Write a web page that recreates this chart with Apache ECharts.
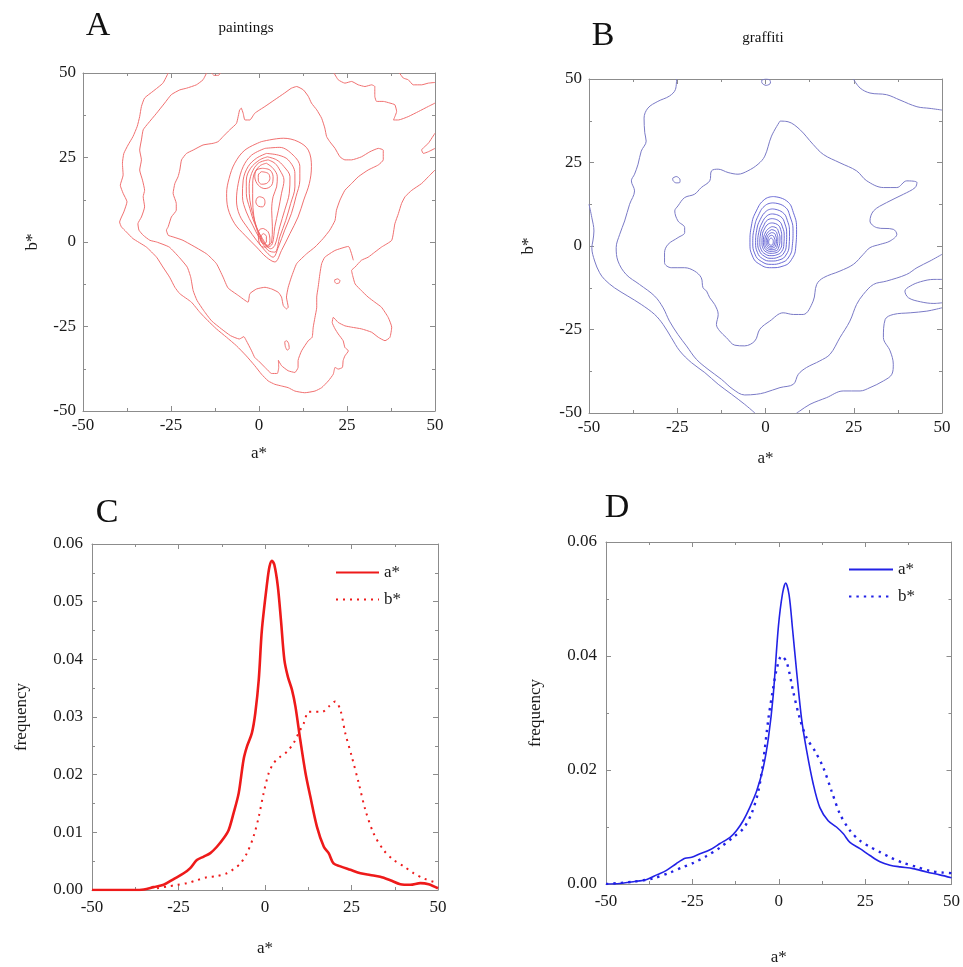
<!DOCTYPE html>
<html><head><meta charset="utf-8">
<script src="https://cdn.jsdelivr.net/npm/echarts@6/dist/echarts.min.js"></script>
<style>html,body{margin:0;padding:0;background:#fff}#c{width:963px;height:967px}</style>
</head><body><div id="c"></div>
<script>
// ---------- tick values ----------
const labTicks = [-50, -25, 0, 25, 50];
const freqTicksC = [0, 0.01, 0.02, 0.03, 0.04, 0.05, 0.06];
const freqTicksD = [0, 0.02, 0.04, 0.06];

// ---------- Panel A (paintings) contour lines, [a*, b*] ----------
const A_level1 = [[-25.8,50],[-27.3,47.0],[-30.1,44.6],[-32.5,42.6],[-33.4,40.1],[-33.9,37.1],[-34.6,34.2],[-35.8,31.2],[-37.2,28.7],[-38.4,26.2],[-38.8,23.3],[-38.6,19.8],[-39.4,16.8],[-38.6,14.4],[-37.5,11.9],[-38.4,8.9],[-39.6,5.9],[-39.1,4.5],[-37.7,3.0],[-35.8,1.0],[-32.0,-1.5],[-29.1,-4.5],[-27.3,-7.4],[-25.4,-10.4],[-23.9,-13.4],[-22.5,-15.3],[-19.2,-17.8],[-16.8,-20.8],[-14.5,-23.3],[-12.1,-25.7],[-9.2,-28.2],[-6.4,-30.7],[-3.6,-33.7],[-1.2,-36.6],[0.7,-39.1],[2.6,-41.1],[4.5,-42.1],[6.4,-42.6],[8.3,-43.1],[10.2,-44.1],[13.0,-44.6],[15.9,-44.1],[17.8,-43.1],[19.7,-41.1],[21.1,-39.1],[21.6,-37.1],[22.5,-37.6],[23.7,-37.1],[23.9,-35.1],[24.4,-33.7],[25.4,-32.2],[24.4,-31.2],[23.9,-29.2],[22.5,-27.2],[21.6,-25.7],[20.8,-23.8],[21.1,-22.3],[22.5,-23.8],[24.4,-24.8],[26.3,-25.2],[29.1,-25.7],[32.0,-26.7],[33.9,-28.2],[35.8,-29.2],[37.2,-28.2],[37.7,-25.2],[36.7,-22.3],[34.8,-19.3],[32.9,-17.8],[31.0,-16.3],[29.1,-14.4],[27.3,-12.4],[26.6,-9.9],[26.3,-8.4],[27.3,-7.4],[29.1,-5.4],[31.0,-4.5],[32.9,-3.0],[34.8,-1.5],[37.7,0.5],[38.6,5.4],[39.6,8.4],[40.5,11.4],[41.5,13.4],[43.4,15.3],[46.2,17.3],[48.1,19.3],[50,21.3]];
const A_level2 = [[-14.9,50],[-15.9,48.0],[-17.8,46.5],[-20.6,45.5],[-22.5,45.0],[-24.9,43.6],[-26.8,41.1],[-29.1,38.1],[-31.5,35.1],[-32.9,33.2],[-33.4,30.2],[-33.9,27.2],[-33.4,24.3],[-33.9,21.3],[-33.1,18.3],[-32.5,15.3],[-32.9,13.4],[-32.5,10.4],[-33.4,7.4],[-34.4,5.4],[-34.1,3.5],[-32.9,2.0],[-31.0,0.5],[-29.1,0],[-25.5,-1.5],[-22.7,-4.5],[-20.4,-7.4],[-19.4,-10.4],[-18.7,-14.4],[-17.6,-17.3],[-15.7,-20.3],[-13.5,-23.3],[-10.7,-25.7],[-8.1,-27.7],[-5.6,-28.7],[-4.3,-28.0],[-3.6,-29.2],[-2.1,-32.2],[-1.2,-34.2],[-0.2,-35.1],[1.7,-37.1],[3.6,-38.9],[5.2,-38.9],[5.6,-37.1],[5.5,-35.0],[6.4,-36.6],[8.3,-38.1],[10.2,-38.6],[11.1,-37.1],[11.1,-35.1],[12.1,-32.2],[14.0,-29.2],[15.1,-28.2],[15.4,-25.2],[15.9,-22.3],[16.4,-19.3],[16.4,-16.3],[16.8,-13.4],[17.3,-9.4],[17.8,-6.4],[18.7,-4.5],[21.6,-2.5],[25.4,-1.3],[26.8,-5.4]];
const A_level3 = [[-5.0,39.6],[-5.5,39.1],[-6.4,35.1],[-8.3,33.2],[-10.2,31.2],[-11.6,29.7],[-13.0,29.2],[-15.9,28.7],[-18.7,27.2],[-20.6,26.2],[-22.0,24.3],[-22.5,21.3],[-23.0,19.3],[-23.9,17.3],[-24.4,14.4],[-23.5,11.4],[-23.5,9.4],[-24.9,7.4],[-25.8,4.5],[-26.3,3.5],[-25.8,2.0],[-24.4,1.5],[-21.6,0.5],[-14.9,-3.5],[-12.1,-6.4],[-10.2,-10.4],[-8.8,-13.6],[-5.9,-15.8],[-3.1,-17.8],[-2.6,-15.3],[-0.7,-13.9],[1.7,-13.4],[3.6,-13.9],[5.5,-14.9],[6.4,-16.3],[6.9,-18.8],[7.8,-19.8],[8.3,-19.3],[7.8,-16.3],[8.3,-13.4],[9.2,-10.4],[10.7,-6.4],[13.5,-3.5],[15.9,-1.5],[18.2,1.0],[20.1,3.5],[21.6,6.4],[22.0,9.4],[23.0,12.4],[24.4,15.3],[26.3,17.3],[28.2,19.3],[31.0,21.3],[33.9,22.8],[35.3,24.3],[35.3,27.2],[33.9,27.7],[31.5,26.7],[29.1,25.2],[26.3,24.3],[24.4,24.3],[23.0,25.2],[21.6,27.7],[20.1,29.7],[19.2,31.2],[18.7,33.7],[17.8,36.6],[16.4,39.1],[14.9,41.1],[14.0,43.1],[12.6,45.0],[10.7,46.0],[9.2,45.5],[7.3,44.1],[4.5,42.1],[1.7,40.1],[-1.2,38.1],[-2.6,36.1],[-4.0,36.1],[-4.5,38.1],[-5.0,39.6]];
const A_topRight1 = [[21.3,50],[22.5,48.0],[24.4,47.0],[26.3,47.5],[28.2,46.5],[30.1,46.0],[32.0,46.5],[32.9,46.0],[32.9,43.1],[33.4,41.6],[35.3,41.6],[37.2,41.1],[38.6,40.6],[39.1,38.6],[38.6,37.1],[38.2,36.1],[39.6,36.1],[42.4,37.1],[45.3,38.6],[48.1,40.1],[50,41.1]];
const A_topRight2 = [[39.9,50],[41.0,48.5],[42.4,48.0],[43.8,46.5],[46.2,46.5],[48.1,47.0],[50,47.2]];
const A_notch = [[50,32.2],[48.1,29.2],[46.2,27.2],[46.7,26.2],[48.1,26.7],[50,27.7]];
const A_topTiny = [[-13.5,50],[-12.8,49.3],[-11.5,49.3],[-11,50]];
const A_spot1 = [[21.5,-11.2],[22.3,-10.9],[23.0,-11.4],[22.8,-12.1],[22.0,-12.3],[21.5,-11.8],[21.5,-11.2]];
const A_spot2 = [[7.3,-29.5],[7.9,-29.2],[8.4,-30.0],[8.6,-31.5],[8.0,-32.0],[7.5,-31.0],[7.3,-29.5]];
const A_ring1 = [[0.7,29.7],[6.9,30.7],[11.1,29.7],[14.0,27.2],[14.9,22.3],[14.3,17.3],[12.7,12.4],[11.1,7.4],[8.8,2.5],[6.4,-2.5],[4.5,-5.9],[2.1,-4.5],[-0.7,-1.5],[-4.0,2.0],[-6.9,5.4],[-8.8,9.9],[-9.2,14.4],[-8.5,18.8],[-6.9,23.3],[-4.0,27.2],[0.7,29.7]];
const A_ring2 = [[1.7,27.7],[5.9,28.0],[9.7,25.7],[11.6,22.3],[11.6,18.3],[10.5,13.4],[9.2,8.4],[7.3,3.5],[5.5,-1.5],[4.0,-4.5],[2.1,-3.0],[-0.7,0.5],[-3.1,4.0],[-5.5,7.9],[-6.4,12.4],[-5.9,17.3],[-4.5,22.3],[-2.1,25.7],[1.7,27.7]];
const A_ring3 = [[2.1,26.2],[5.5,25.7],[8.3,24.3],[10.2,20.3],[10.2,16.3],[9.0,11.4],[7.6,6.4],[5.9,1.5],[4.5,-3.0],[2.6,-2.5],[0.2,1.0],[-1.8,5.0],[-3.6,8.9],[-4.7,13.4],[-4.5,18.3],[-3.1,22.3],[-0.7,24.8],[2.1,26.2]];
const A_ring4 = [[2.4,25.2],[5.0,24.3],[7.1,22.3],[8.8,19.3],[8.6,14.4],[7.3,9.4],[5.9,4.5],[4.5,-1.0],[3.3,-2.0],[1.0,1.0],[-1.2,5.4],[-2.6,9.9],[-3.6,14.4],[-3.6,18.3],[-2.4,21.8],[0.2,24.3],[2.4,25.2]];
const A_ring5 = [[2.6,24.3],[4.5,23.3],[5.9,21.3],[7.1,18.3],[6.4,14.4],[5.5,9.4],[4.5,4.5],[3.8,-0.5],[2.6,-1.5],[1.0,0.5],[-0.7,4.5],[-1.8,8.4],[-2.6,12.4],[-2.8,16.3],[-2.1,20.3],[-0.2,23.3],[2.6,24.3]];
const A_ring6 = [[2.1,23.3],[4.0,21.8],[5.2,19.3],[5.0,16.3],[4.0,13.4],[3.6,9.4],[3.8,4.5],[3.6,0],[2.3,-1.0],[0.7,0.5],[-0.7,4.0],[-1.5,7.9],[-1.8,12.4],[-1.8,16.3],[-1.5,19.8],[0.2,22.5],[2.1,23.3]];
const A_ring7 = [[1.0,21.8],[3.1,21.3],[4.0,19.3],[3.6,16.8],[1.7,15.8],[-0.2,16.8],[-1.2,19.3],[-0.7,21.3],[1.0,21.8]];
const A_ring8 = [[0.7,20.8],[2.6,20.3],[3.1,18.8],[2.1,17.3],[0.7,17.1],[-0.2,18.3],[-0.2,19.8],[0.7,20.8]];
const A_ring9 = [[0.2,13.4],[1.4,12.9],[1.7,11.6],[1.0,10.4],[-0.2,10.6],[-0.9,11.9],[-0.5,13.1],[0.2,13.4]];
const A_ring10 = [[1.2,4.0],[2.6,3.0],[3.1,0.5],[2.6,-1.3],[1.2,-1.5],[0.0,0],[-0.2,2.5],[0.2,3.7],[1.2,4.0]];
const A_ring11 = [[1.2,2.5],[2.1,1.7],[2.1,0],[1.2,-0.5],[0.5,0.5],[0.6,1.8],[1.2,2.5]];

// ---------- Panel B (graffiti) contour lines, [a*, b*] ----------
const B_left0 = [[-50,12.5],[-49.2,8.5],[-48.6,4.5],[-48.9,1.5],[-49.2,-0.5],[-48.4,-4.5],[-47.0,-8.0],[-45.6,-10.0],[-42.8,-12.5],[-39.0,-15.0],[-35.2,-17.5],[-31.4,-20.5],[-29.0,-23.5],[-26.7,-27.4],[-24.3,-31.4],[-21.0,-34.9],[-17.2,-37.9],[-13.4,-41.4],[-9.6,-44.4],[-5.9,-47.4],[-3.0,-50]];
const B_level1 = [[-25.2,50],[-25.5,46.9],[-27.2,44.9],[-30.5,43.3],[-33.3,41.3],[-34.4,38.3],[-34.2,33.9],[-33.8,31.4],[-35.2,28.4],[-36.1,24.5],[-37.1,21.5],[-38.0,19.5],[-37.1,16.5],[-38.5,12.5],[-39.9,7.5],[-41.3,3.5],[-42.3,-0.5],[-41.8,-4.5],[-39.5,-8.5],[-35.7,-11.5],[-31.4,-15.0],[-29.0,-18.5],[-27.2,-22.5],[-24.8,-26.5],[-22.4,-29.9],[-19.6,-33.9],[-16.3,-36.9],[-12.5,-39.9],[-9.2,-42.9],[-5.9,-44.6],[-2.6,-44.4],[-0.2,-43.9],[4.1,-42.4],[7.9,-41.4],[9.3,-38.4],[11.6,-36.4],[15.4,-34.4],[18.3,-32.4],[21.1,-27.4],[23.9,-22.5],[25.8,-17.5],[27.7,-14.5],[30.6,-11.5],[34.3,-10.5],[40.0,-8.5],[42.9,-6.5],[46.6,-4.5],[50,-2.5]];
const B_bottomRight0 = [[50,-18.5],[45.7,-19.5],[41.0,-20.0],[36.2,-20.5],[33.9,-22.0],[33.4,-27.4],[35.3,-31.4],[36.2,-35.4],[35.8,-38.4],[33.4,-40.4],[29.6,-42.4],[26.8,-43.4],[22.0,-43.4],[17.3,-45.4],[12.6,-47.4],[9.7,-49.4],[8.8,-50]];
const B_rightIsland = [[50,-10.0],[47.7,-10.0],[43.9,-10.7],[41.0,-12.0],[39.5,-13.5],[40.5,-15.5],[43.9,-16.7],[47.7,-17.2],[50,-17.0]];
const B_topRight = [[24.9,50],[26.8,47.3],[29.6,45.8],[34.3,45.3],[38.1,43.7],[42.9,41.7],[46.6,41.2],[50,40.7]];
const B_topSpot = [[-1.1,49.6],[0.1,50],[1.3,49.6],[1.4,48.8],[0.2,48.1],[-1.0,48.8],[-1.1,49.6]];
const B_leftSpot = [[-26.3,20.3],[-25.3,20.8],[-24.2,19.8],[-24.3,19.0],[-25.3,18.9],[-26.2,19.6],[-26.3,20.3]];
const B_level2 = [[4.1,37.4],[6.4,37.2],[9.7,34.9],[13.5,30.4],[16.4,27.4],[21.1,24.9],[25.8,22.5],[28.7,19.5],[33.4,17.5],[37.2,17.5],[40.0,19.5],[42.9,19.0],[42.4,17.5],[39.1,15.5],[34.3,13.0],[30.6,10.5],[29.6,7.5],[31.5,5.5],[36.2,5.0],[37.2,3.5],[35.3,1.5],[32.5,0.5],[29.6,-0.5],[27.7,-2.5],[24.9,-5.5],[21.1,-7.5],[16.4,-9.5],[14.5,-11.5],[13.5,-16.5],[10.7,-20.5],[7.9,-20.5],[5.0,-20.0],[1.2,-22.5],[-1.6,-24.9],[-3.0,-28.4],[-5.9,-29.9],[-8.7,-29.7],[-11.1,-27.4],[-13.0,-25.4],[-13.9,-23.5],[-13.4,-20.5],[-14.4,-17.5],[-15.8,-15.5],[-16.7,-13.5],[-17.7,-12.5],[-18.2,-9.5],[-20.1,-7.5],[-22.9,-6.5],[-26.7,-6.5],[-28.6,-5.0],[-28.6,-2.0],[-27.6,0.5],[-24.8,2.5],[-22.9,4.0],[-22.9,5.5],[-24.8,7.5],[-25.7,10.5],[-24.8,12.0],[-22.9,14.5],[-20.1,15.5],[-18.2,17.5],[-15.8,19.5],[-15.3,22.5],[-13.4,23.0],[-10.6,22.0],[-7.8,21.5],[-5.0,22.5],[-2.1,24.5],[-0.2,26.9],[1.7,32.9],[4.1,37.4]];
const B_ring1 = [[2.2,14.8],[6.0,13.5],[7.9,10.0],[8.8,5.0],[8.6,0],[7.4,-4.0],[5.0,-6.0],[1.7,-6.5],[-1.6,-5.5],[-3.7,-3.0],[-4.4,1.0],[-4.0,6.0],[-2.6,10.5],[-0.2,14.0],[2.2,14.8]];
const B_ring2 = [[2.1,12.9],[5.4,11.8],[7.0,8.7],[7.8,4.4],[7.6,0.1],[6.6,-3.3],[4.5,-5.0],[1.7,-5.5],[-1.2,-4.6],[-3.0,-2.4],[-3.6,1.0],[-3.2,5.3],[-2.0,9.2],[0.0,12.2],[2.1,12.9]];
const B_ring3 = [[2.0,11.1],[4.8,10.1],[6.2,7.6],[6.8,3.9],[6.7,0.3],[5.8,-2.7],[4.1,-4.1],[1.6,-4.5],[-0.8,-3.8],[-2.3,-1.9],[-2.8,1.0],[-2.5,4.7],[-1.5,7.9],[0.3,10.5],[2.0,11.1]];
const B_ring4 = [[1.9,9.6],[4.3,8.8],[5.5,6.6],[6.0,3.5],[5.9,0.4],[5.2,-2.1],[3.7,-3.3],[1.6,-3.7],[-0.4,-3.0],[-1.7,-1.5],[-2.2,1.0],[-1.9,4.1],[-1.0,6.9],[0.5,9.1],[1.9,9.6]];
const B_ring5 = [[1.9,8.2],[3.8,7.5],[4.8,5.7],[5.3,3.1],[5.2,0.5],[4.6,-1.6],[3.3,-2.6],[1.6,-2.9],[-0.1,-2.4],[-1.2,-1.1],[-1.6,1.0],[-1.4,3.6],[-0.6,5.9],[0.6,7.8],[1.9,8.2]];
const B_ring6 = [[1.8,6.9],[3.4,6.4],[4.3,4.9],[4.6,2.7],[4.6,0.6],[4.0,-1.2],[3.0,-2.0],[1.6,-2.2],[0.2,-1.8],[-0.7,-0.7],[-1.0,1.0],[-0.9,3.2],[-0.3,5.1],[0.8,6.6],[1.8,6.9]];
const B_ring7 = [[1.8,5.8],[3.1,5.4],[3.7,4.2],[4.1,2.4],[3.6,-0.8],[2.7,-1.5],[1.6,-1.6],[0.4,-1.3],[-0.3,-0.4],[-0.6,1.0],[0.1,4.3],[1.8,5.8]];
const B_ring8 = [[1.7,4.9],[2.8,4.5],[3.3,3.5],[3.5,2.1],[3.2,-0.4],[2.5,-1.0],[1.6,-1.1],[0.6,-0.8],[0.0,-0.1],[-0.2,1.0],[0.4,3.7],[1.7,4.9]];
const B_ring9 = [[1.7,4.0],[2.5,3.8],[2.9,3.0],[3.1,1.9],[2.8,-0.1],[2.3,-0.5],[1.5,-0.65],[0.8,-0.4],[0.4,0.1],[0.2,1.0],[0.6,3.1],[1.7,4.0]];
const B_ring10 = [[1.6,3.2],[2.2,3.0],[2.5,2.4],[2.7,1.6],[2.4,0.2],[2.1,-0.1],[1.5,-0.2],[1.0,0.0],[0.7,0.4],[0.6,1.0],[0.8,2.5],[1.6,3.2]];
const B_ring11 = [[1.6,2.4],[1.9,2.2],[2.1,1.9],[2.2,1.4],[2.1,0.5],[1.9,0.3],[1.5,0.25],[1.2,0.4],[1.0,0.6],[0.9,1.0],[1.1,2.0],[1.6,2.4]];

// ---------- Panel C (paintings) frequency curves ----------
const C_a = [[-50,0],[-37.9,0],[-35,0.0001],[-32.2,0.0005],[-29.3,0.0009],[-26.4,0.0019],[-23.5,0.0029],[-21.6,0.0038],[-19.7,0.0052],[-17.7,0.0058],[-15.8,0.0064],[-13.9,0.0075],[-11.9,0.0090],[-10.5,0.0104],[-9.1,0.0133],[-7.6,0.0168],[-6.2,0.0226],[-5.2,0.0249],[-3.8,0.0272],[-2.8,0.0307],[-1.8,0.0365],[-0.9,0.0451],[0.6,0.0532],[1.3,0.0561],[2.0,0.0571],[2.7,0.0564],[3.7,0.0527],[4.6,0.0469],[5.6,0.0399],[6.6,0.0370],[7.8,0.0347],[8.8,0.0318],[10.2,0.0260],[11.7,0.0203],[13.1,0.0162],[15.0,0.0110],[17.0,0.0075],[18.4,0.0064],[19.8,0.0046],[21.8,0.0041],[24.7,0.0035],[27.6,0.0029],[30.4,0.0026],[33.3,0.0023],[36.2,0.0017],[39.1,0.0010],[42.0,0.0009],[44.9,0.0012],[47.3,0.0010],[50,0.0003]];
const C_b = [[-31.2,0.0003],[-28.3,0.0006],[-25.4,0.0009],[-22.5,0.0012],[-19.7,0.0017],[-16.8,0.0022],[-13.9,0.0024],[-11.0,0.0029],[-9.1,0.0036],[-7.1,0.0046],[-5.2,0.0064],[-3.3,0.0093],[-1.8,0.0127],[-0.4,0.0168],[1.1,0.0203],[2.5,0.0220],[4.4,0.0231],[6.4,0.0240],[8.3,0.0255],[9.7,0.0272],[11.2,0.0289],[12.6,0.0309],[14.5,0.0309],[16.5,0.0309],[18.4,0.0318],[20.3,0.0327],[21.8,0.0312],[23.2,0.0272],[25.1,0.0231],[27.1,0.0185],[29.0,0.0139],[31.4,0.0098],[34.3,0.0069],[37.2,0.0052],[40.1,0.0041],[43.0,0.0029],[45.9,0.0020],[48.8,0.0014],[50,0.0013]];

// ---------- Panel D (graffiti) frequency curves ----------
const D_a = [[-50,0],[-46,0.0001],[-42.1,0.0004],[-38.2,0.0008],[-35.3,0.0016],[-32.5,0.0024],[-29.6,0.0036],[-27.1,0.0045],[-25.2,0.0047],[-22.8,0.0053],[-19.9,0.0060],[-17.0,0.0071],[-14.1,0.0082],[-12.2,0.0094],[-10.3,0.0111],[-8.4,0.0134],[-6.4,0.0163],[-4.5,0.0204],[-3.0,0.0256],[-1.6,0.0331],[-0.1,0.0452],[1.1,0.0510],[2.0,0.0528],[3.0,0.0507],[4.0,0.0447],[5.2,0.0371],[6.6,0.0290],[8.1,0.0233],[10.0,0.0175],[11.9,0.0134],[14.3,0.0111],[16.7,0.0100],[18.7,0.0088],[20.6,0.0073],[23.5,0.0062],[26.4,0.0050],[29.3,0.0039],[32.2,0.0033],[35.1,0.0030],[38.9,0.0027],[42.8,0.0021],[46.6,0.0016],[50,0.0011]];
const D_b = [[-50,0],[-42.1,0.0004],[-36.3,0.0010],[-31.5,0.0020],[-27.6,0.0030],[-24.7,0.0037],[-20.9,0.0049],[-17.0,0.0064],[-13.2,0.0082],[-10.3,0.0097],[-7.9,0.0123],[-5.9,0.0163],[-4.5,0.0215],[-3.0,0.0290],[-1.8,0.0337],[-0.6,0.0377],[0.8,0.0400],[2.3,0.0389],[4.2,0.0337],[6.1,0.0290],[8.1,0.0256],[10.5,0.0233],[12.9,0.0204],[15.3,0.0163],[17.7,0.0123],[20.6,0.0094],[23.5,0.0076],[26.4,0.0065],[29.3,0.0056],[32.2,0.0047],[36.0,0.0037],[39.9,0.0030],[43.7,0.0023],[47.6,0.0020],[50,0.0019]];

// ---------- build ----------
const FONT = 'Liberation Serif';
const AX = '#8c8c8c';
const chart = echarts.init(document.getElementById('c'), null, {renderer: 'canvas'});

const grids = [
  {left: 83, top: 73, width: 352, height: 338},
  {left: 589, top: 79, width: 353, height: 334},
  {left: 92, top: 544, width: 346, height: 346},
  {left: 606, top: 542, width: 346, height: 345}
];

function baseAxis(extra) {
  return Object.assign({
    type: 'value',
    axisLine: {show: true, onZero: false, lineStyle: {color: AX, width: 1}},
    axisTick: {show: true, inside: true, length: 5, lineStyle: {color: AX}},
    minorTick: {show: true, inside: true, splitNumber: 2, length: 3, lineStyle: {color: AX}},
    splitLine: {show: false},
    axisLabel: {color: '#1a1a1a', fontFamily: FONT, fontSize: 17},
    nameTextStyle: {color: '#1a1a1a', fontFamily: FONT, fontSize: 17}
  }, extra);
}

const labFmt = v => String(Math.round(v));
const freqFmt = v => v.toFixed(2);

const xMain = [
  {gridIndex: 0, min: labTicks[0], max: labTicks[4], interval: 25, name: 'a*', nameLocation: 'middle', nameGap: 34, axisLabel: {margin: 6, formatter: labFmt}},
  {gridIndex: 1, min: labTicks[0], max: labTicks[4], interval: 25, name: 'a*', nameLocation: 'middle', nameGap: 37, axisLabel: {margin: 6, formatter: labFmt}},
  {gridIndex: 2, min: labTicks[0], max: labTicks[4], interval: 25, name: 'a*', nameLocation: 'middle', nameGap: 50, axisLabel: {margin: 9, formatter: labFmt}},
  {gridIndex: 3, min: labTicks[0], max: labTicks[4], interval: 25, name: 'a*', nameLocation: 'middle', nameGap: 65, axisLabel: {margin: 9, formatter: labFmt}}
].map(o => { const a = baseAxis(o); a.axisLabel = Object.assign({}, baseAxis({}).axisLabel, o.axisLabel); a.position = 'bottom'; return a; });

const yMain = [
  {gridIndex: 0, min: labTicks[0], max: labTicks[4], interval: 25, name: 'b*', nameLocation: 'middle', nameGap: 42, nameRotate: 90, axisLabel: {margin: 7, formatter: labFmt}},
  {gridIndex: 1, min: labTicks[0], max: labTicks[4], interval: 25, name: 'b*', nameLocation: 'middle', nameGap: 52, nameRotate: 90, axisLabel: {margin: 7, formatter: labFmt}},
  {gridIndex: 2, min: freqTicksC[0], max: freqTicksC[6], interval: 0.01, name: 'frequency', nameLocation: 'middle', nameGap: 62, nameRotate: 90, axisLabel: {margin: 9, formatter: freqFmt}},
  {gridIndex: 3, min: freqTicksD[0], max: freqTicksD[3], interval: 0.02, name: 'frequency', nameLocation: 'middle', nameGap: 62, nameRotate: 90, axisLabel: {margin: 9, formatter: freqFmt}}
].map(o => { const a = baseAxis(o); a.axisLabel = Object.assign({}, baseAxis({}).axisLabel, o.axisLabel); a.position = 'left'; return a; });

const xMirror = xMain.map(a => baseAxis({gridIndex: a.gridIndex, min: a.min, max: a.max, interval: a.interval, position: 'top', axisLabel: {show: false}}));
const yMirror = yMain.map(a => baseAxis({gridIndex: a.gridIndex, min: a.min, max: a.max, interval: a.interval, position: 'right', axisLabel: {show: false}}));

const series = [];
function addContours(list, idx, color, width, smooth) {
  list.forEach(d => series.push({
    type: 'line', data: d, xAxisIndex: idx, yAxisIndex: idx,
    symbol: 'none', showSymbol: false, smooth: smooth, silent: true,
    lineStyle: {color: color, width: width}, clip: true, animation: false
  }));
}
addContours([A_level1, A_level2, A_level3, A_topRight1, A_topRight2, A_notch, A_topTiny, A_spot1, A_spot2], 0, '#f07070', 1, 0.15);
addContours([A_ring1, A_ring2, A_ring3, A_ring4, A_ring5, A_ring6, A_ring7, A_ring8, A_ring9, A_ring10, A_ring11], 0, '#ee6060', 0.9, 0.35);
addContours([B_left0, B_level1, B_bottomRight0, B_rightIsland, B_topRight, B_topSpot, B_leftSpot, B_level2], 1, '#7a7ac6', 1, 0.35);
addContours([B_ring1, B_ring2, B_ring3, B_ring4, B_ring5, B_ring6, B_ring7, B_ring8, B_ring9, B_ring10, B_ring11], 1, '#5a5ad0', 0.9, 0.5);

series.push({name: 'Ca', type: 'line', data: C_a, xAxisIndex: 2, yAxisIndex: 2, symbol: 'none', smooth: 0.3, lineStyle: {color: '#ee1a1a', width: 2.6}, itemStyle: {color: '#ee1a1a'}, animation: false});
series.push({name: 'Cb', type: 'line', data: C_b, xAxisIndex: 2, yAxisIndex: 2, symbol: 'none', smooth: 0.3, lineStyle: {color: '#ee1a1a', width: 2, type: [2, 5]}, itemStyle: {color: '#ee1a1a'}, animation: false});
series.push({name: 'Da', type: 'line', data: D_a, xAxisIndex: 3, yAxisIndex: 3, symbol: 'none', smooth: 0.3, lineStyle: {color: '#2222e6', width: 1.6}, itemStyle: {color: '#2222e6'}, animation: false});
series.push({name: 'Db', type: 'line', data: D_b, xAxisIndex: 3, yAxisIndex: 3, symbol: 'none', smooth: 0.3, lineStyle: {color: '#2222e6', width: 2.4, type: [2.4, 5]}, itemStyle: {color: '#2222e6'}, animation: false});

const legFmt = n => n.slice(1) + '*';
const legBase = {orient: 'vertical', itemHeight: 14, itemGap: 10, padding: 0, formatter: legFmt, selectedMode: false,
  itemStyle: {opacity: 0}, textStyle: {fontFamily: FONT, fontSize: 17, color: '#1a1a1a'}};
const legends = [
  Object.assign({data: ['Ca', 'Cb'], left: 335, top: 564, itemWidth: 43}, legBase),
  Object.assign({data: ['Da', 'Db'], left: 848, top: 561, itemWidth: 44}, legBase)
];

const txt = (x, y, s, size) => ({type: 'text', x: x, y: y, style: {text: s, fontFamily: FONT, fontSize: size, fill: '#111', align: 'center', verticalAlign: 'middle'}});

chart.setOption({
  animation: false,
  backgroundColor: '#fff',
  grid: grids,
  xAxis: xMain.concat(xMirror),
  yAxis: yMain.concat(yMirror),
  legend: legends,
  series: series,
  graphic: [
    txt(98, 26, 'A', 34), txt(246, 28, 'paintings', 15),
    txt(603, 36, 'B', 34), txt(763, 38, 'graffiti', 15),
    txt(107, 513, 'C', 34), txt(617, 508, 'D', 34)
  ]
});
</script></body></html>
